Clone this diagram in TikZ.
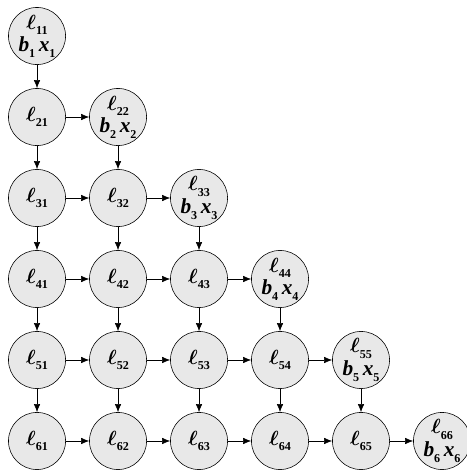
\documentclass[tikz,border=0pt]{standalone}
\usepackage{bm}
\usepackage{fontspec}
\setmainfont{Liberation Serif}
\usetikzlibrary{arrows.meta,positioning}
\tikzset{
  cell/.style={circle,draw=black,fill=black!9,minimum size=14.1mm,inner sep=0pt,
    align=center,font=\fontsize{15}{16}\selectfont\bfseries\itshape},
  link/.style={-{Latex[length=2mm,width=1.6mm]},thin,draw=black}
}
\newcommand{\subidx}[1]{\raisebox{-0.55ex}{\upshape\fontsize{8.5}{8.5}\selectfont#1}}
\newcommand{\lsub}[1]{$\bm{\ell}$\subidx{#1}}
\newcommand{\vsub}[2]{#1\subidx{#2}}

\begin{document}
\begin{tikzpicture}
  \useasboundingbox (0,0) rectangle (11.51,-11.63);
  % lower triangle of cells
  \foreach \i in {1,...,6}{
    \foreach \j in {1,...,\i}{
      \ifnum\i=\j
        \node[cell] (l\i\j) at ({0.914+2*(\j-1)},{-0.889-2*(\i-1)})
          {\lsub{\i\j}\\[0pt]\vsub{b}{\i}\,\vsub{x}{\i}};
      \else
        \node[cell] (l\i\j) at ({0.914+2*(\j-1)},{-0.889-2*(\i-1)}) {\lsub{\i\j}};
      \fi
    }
  }
  % connectors: down and right
  \foreach \i in {2,...,6}{
    \pgfmathtruncatemacro\p{\i-1}
    \foreach \j in {1,...,\p}{ \draw[link] (l\p\j) -- (l\i\j); }
    \foreach \j in {2,...,\i}{
      \pgfmathtruncatemacro\q{\j-1}
      \draw[link] (l\i\q) -- (l\i\j);
    }
  }
\end{tikzpicture}
\end{document}
